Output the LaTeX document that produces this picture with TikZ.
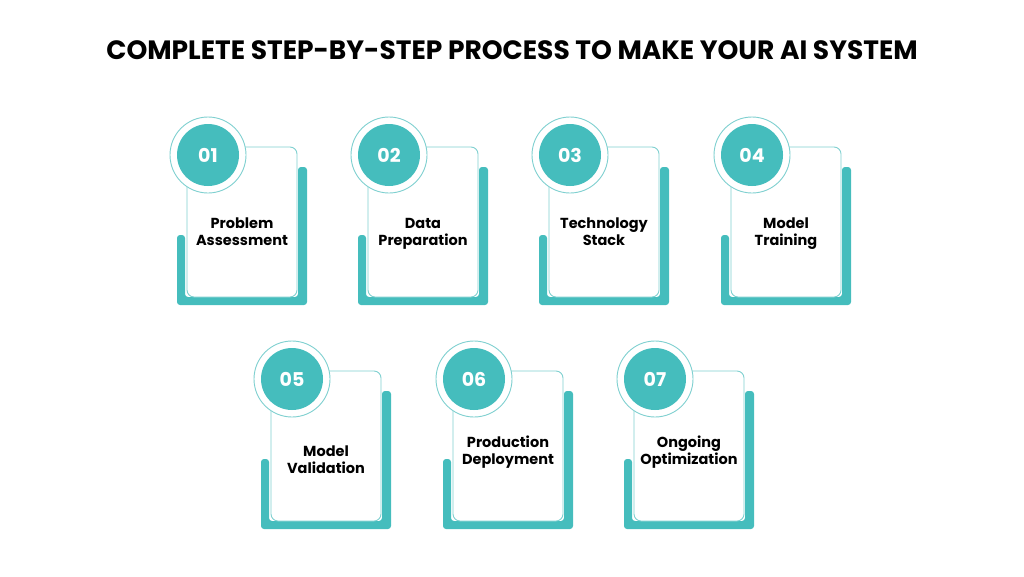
\documentclass[tikz,border=0pt]{standalone}
\usepackage{fontspec}
\setmainfont{Poppins}
\definecolor{teal1}{HTML}{45BDBD}
\definecolor{teal2}{HTML}{7FD0D0}
\begin{document}
\begin{tikzpicture}[x=1pt,y=-1pt,
  bracket/.style={fill=teal1,rounded corners=3pt},
  card/.style={draw=teal2,line width=0.9pt,fill=white,rounded corners=7pt},
  ring/.style={draw=teal2,line width=0.9pt,fill=white},
  disk/.style={fill=teal1},
  num/.style={text=white,font=\fontsize{19}{19}\selectfont\bfseries},
  lbl/.style={align=center,font=\fontsize{14.5}{17}\selectfont\bfseries}]
\useasboundingbox (0,0) rectangle (1024,576);
\node[font=\fontsize{26.5}{26}\selectfont\bfseries] (title) at (512,50) {COMPLETE STEP-BY-STEP PROCESS TO MAKE YOUR AI SYSTEM};
\newcommand\stepcard[6]{%
  \begin{scope}[shift={(#1,#2)}]
  \fill[bracket] (-10,88) -- (-2,88) -- (-2,150) -- (111,150) -- (111,20) -- (120,20) -- (120,158) -- (-10,158) -- cycle;
  \draw[card] (0,0) rectangle (110,150);
  \draw[ring] (21,8) circle (38);
  \fill[disk] (21,8) circle (31);
  \node[num] (n#3) at (21,8) {#4};
  \node[lbl] (t#3) at (55,#6) {#5\strut};
  \end{scope}}
\stepcard{187}{147}{1}{01}{Problem\\Assessment}{87}
\stepcard{368}{147}{2}{02}{Data\\Preparation}{87}
\stepcard{549}{147}{3}{03}{Technology\\Stack}{87}
\stepcard{731}{147}{4}{04}{Model\\Training}{87}
\stepcard{271}{371}{5}{05}{Model\\Validation}{91}
\stepcard{453}{371}{6}{06}{Production\\Deployment}{82}
\stepcard{634}{371}{7}{07}{Ongoing\\Optimization}{82}
\end{tikzpicture}
\end{document}
